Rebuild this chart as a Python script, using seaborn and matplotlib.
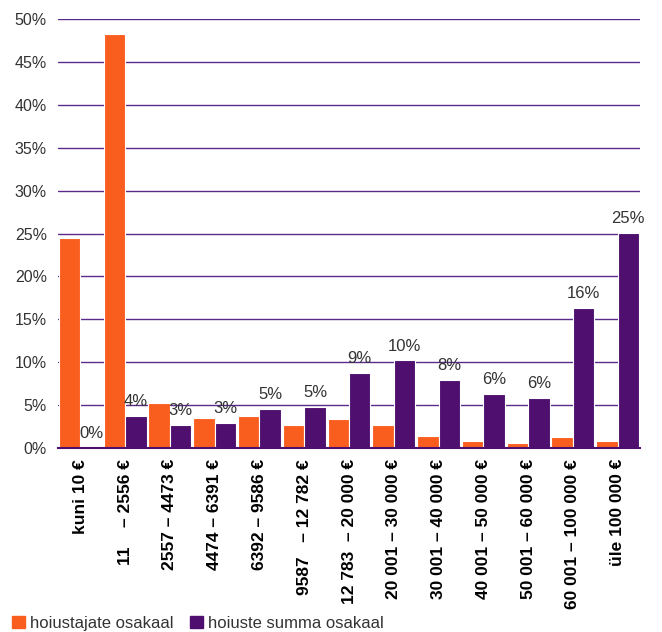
import numpy as np
import pandas as pd
import matplotlib
matplotlib.use("Agg")
import matplotlib.pyplot as plt
from matplotlib.patches import Patch
import seaborn as sns

############################################################################
# data
############################################################################
ranges = ['kuni 10 €', '11    – 2556 €', '2557 – 4473 €', '4474 – 6391 €',
          '6392 – 9586 €', '9587   – 12 782 €', '12 783  – 20 000 €',
          '20 001 – 30 000 €', '30 001 – 40 000 €', '40 001 – 50 000 €',
          '50 001 – 60 000 €', '60 001 – 100 000 €', 'üle 100 000 €']
depositors = [24.5, 48.2, 5.3, 3.5, 3.7, 2.7, 3.4, 2.7, 1.4, 0.85, 0.6, 1.3, 0.8]
deposit_sum = [0.0, 3.7, 2.7, 2.9, 4.5, 4.8, 8.7, 10.2, 7.9, 6.3, 5.8, 16.3, 25.1]
sum_labels = ['0%', '4%', '3%', '3%', '5%', '5%', '9%', '10%', '8%', '6%', '6%', '16%', '25%']
series = ['hoiustajate osakaal', 'hoiuste summa osakaal']
yticks = list(range(0, 55, 5))

orange = '#FA5E1F'
purple = '#4E0F6E'

df = pd.DataFrame({
    'range': ranges * 2,
    'share': depositors + deposit_sum,
    'series': [series[0]] * len(ranges) + [series[1]] * len(ranges),
})

sns.set_theme(style="white")
plt.rcParams['font.family'] = ['Liberation Sans', 'DejaVu Sans']

fig = plt.figure(figsize=(6.62, 6.32), dpi=100)
ax = fig.add_axes([58 / 662, 1 - 448 / 632, (640 - 58) / 662, (448 - 19) / 632])

sns.barplot(data=df, x='range', y='share', hue='series', order=ranges,
            hue_order=series, palette=[orange, purple], saturation=1,
            width=0.96, edgecolor='white', linewidth=0.8, legend=False, ax=ax)

ax.bar_label(ax.containers[1], labels=sum_labels, padding=5,
             fontsize=12, color='#333333')

##### axes styling
ax.set_ylim(0, 50)
ax.set_yticks(yticks)
ax.set_yticklabels([f'{t}%' for t in yticks], fontsize=11.5, color='#333333')
ax.yaxis.grid(True, color='#5B2A8C', linewidth=1.0)
ax.set_axisbelow(True)
for s in ['top', 'left', 'right']:
    ax.spines[s].set_visible(False)
ax.spines['bottom'].set_color(purple)
ax.spines['bottom'].set_linewidth(1.5)
ax.tick_params(axis='both', length=0)
ax.tick_params(axis='y', pad=8)
ax.tick_params(axis='x', pad=8)
ax.set_xticks(range(len(ranges)))
ax.set_xticklabels(ranges, rotation=90, fontsize=12.5, fontweight='bold',
                   color='black', va='top', ha='center')
ax.set_xlabel('')
ax.set_ylabel('')

##### legend
handles = [Patch(color=orange, label=series[0]), Patch(color=purple, label=series[1])]
fig.legend(handles=handles, loc='lower left', bbox_to_anchor=(-0.004, -0.022),
           ncol=2, frameon=False, fontsize=12, handlelength=0.75,
           handleheight=0.75, handletextpad=0.3, columnspacing=1.0,
           labelcolor='#333333')

plt.savefig('out.png', dpi=100)
plt.close()
